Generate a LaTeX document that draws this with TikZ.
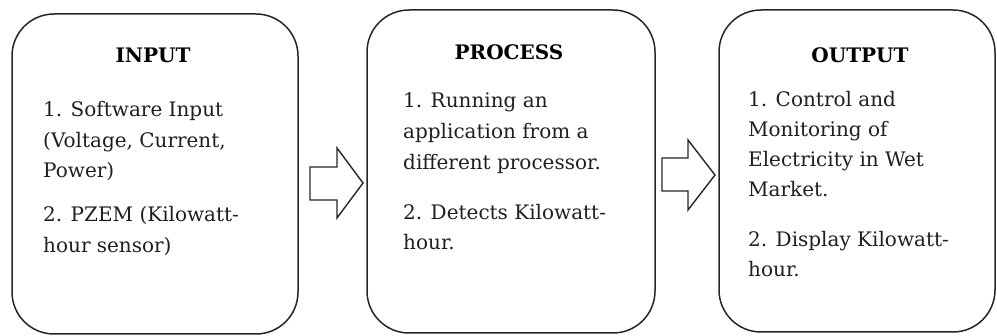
\documentclass[tikz,border=0pt]{standalone}
\usepackage{fontspec}
\setmainfont{DejaVu Serif}
\begin{document}
\begin{tikzpicture}[x=1pt,y=-1pt,
  box/.style={draw=black!85, line width=1.5pt, rounded corners=42pt, inner sep=0pt},
  ttl/.style={font=\fontsize{20}{24}\selectfont\bfseries, anchor=base, inner sep=0pt, text=black},
  txt/.style={font=\fontsize{20}{24}\selectfont, anchor=base west, inner sep=0pt, text=black!88},
  blockarrow/.style={draw=black!85, line width=1.4pt, fill=white, line join=miter}]
\useasboundingbox (0,0) rectangle (997,336);
% boxes
\node[box, minimum width=286pt, minimum height=320pt] (b1) at (155,174) {};
\node[box, minimum width=288pt, minimum height=323pt] (b2) at (511,171.5) {};
\node[box, minimum width=276pt, minimum height=322pt] (b3) at (857,171) {};
% block arrows
\draw[blockarrow] (310,167) -- (337,167) -- (337,148) -- (363,183) -- (337,218) -- (337,200) -- (310,200) -- cycle;
\draw[blockarrow] (662,158) -- (688,158) -- (688,140) -- (715,175) -- (688,210) -- (688,191) -- (662,191) -- cycle;
% titles
\node[ttl] (t1) at (153,63) {INPUT};
\node[ttl] (t2) at (509,60) {PROCESS};
\node[ttl] (t3) at (860,63) {OUTPUT};
% input text
\node[txt] (i1) at (43,117) {1. Software Input};
\node[txt] (i2) at (43,148) {(Voltage, Current,};
\node[txt] (i3) at (43,178) {Power)};
\node[txt] (i4) at (43,222) {2. PZEM (Kilowatt-};
\node[txt] (i5) at (43,253) {hour sensor)};
% process text
\node[txt] (p1) at (403,108) {1. Running an};
\node[txt] (p2) at (403,139) {application from a};
\node[txt] (p3) at (403,170) {different processor.};
\node[txt] (p4) at (403,220) {2. Detects Kilowatt-};
\node[txt] (p5) at (403,250) {hour.};
% output text
\node[txt] (o1) at (748,107) {1. Control and};
\node[txt] (o2) at (748,137) {Monitoring of};
\node[txt] (o3) at (748,167) {Electricity in Wet};
\node[txt] (o4) at (748,197) {Market.};
\node[txt] (o5) at (748,247) {2. Display Kilowatt-};
\node[txt] (o6) at (748,277) {hour.};
\end{tikzpicture}
\end{document}
